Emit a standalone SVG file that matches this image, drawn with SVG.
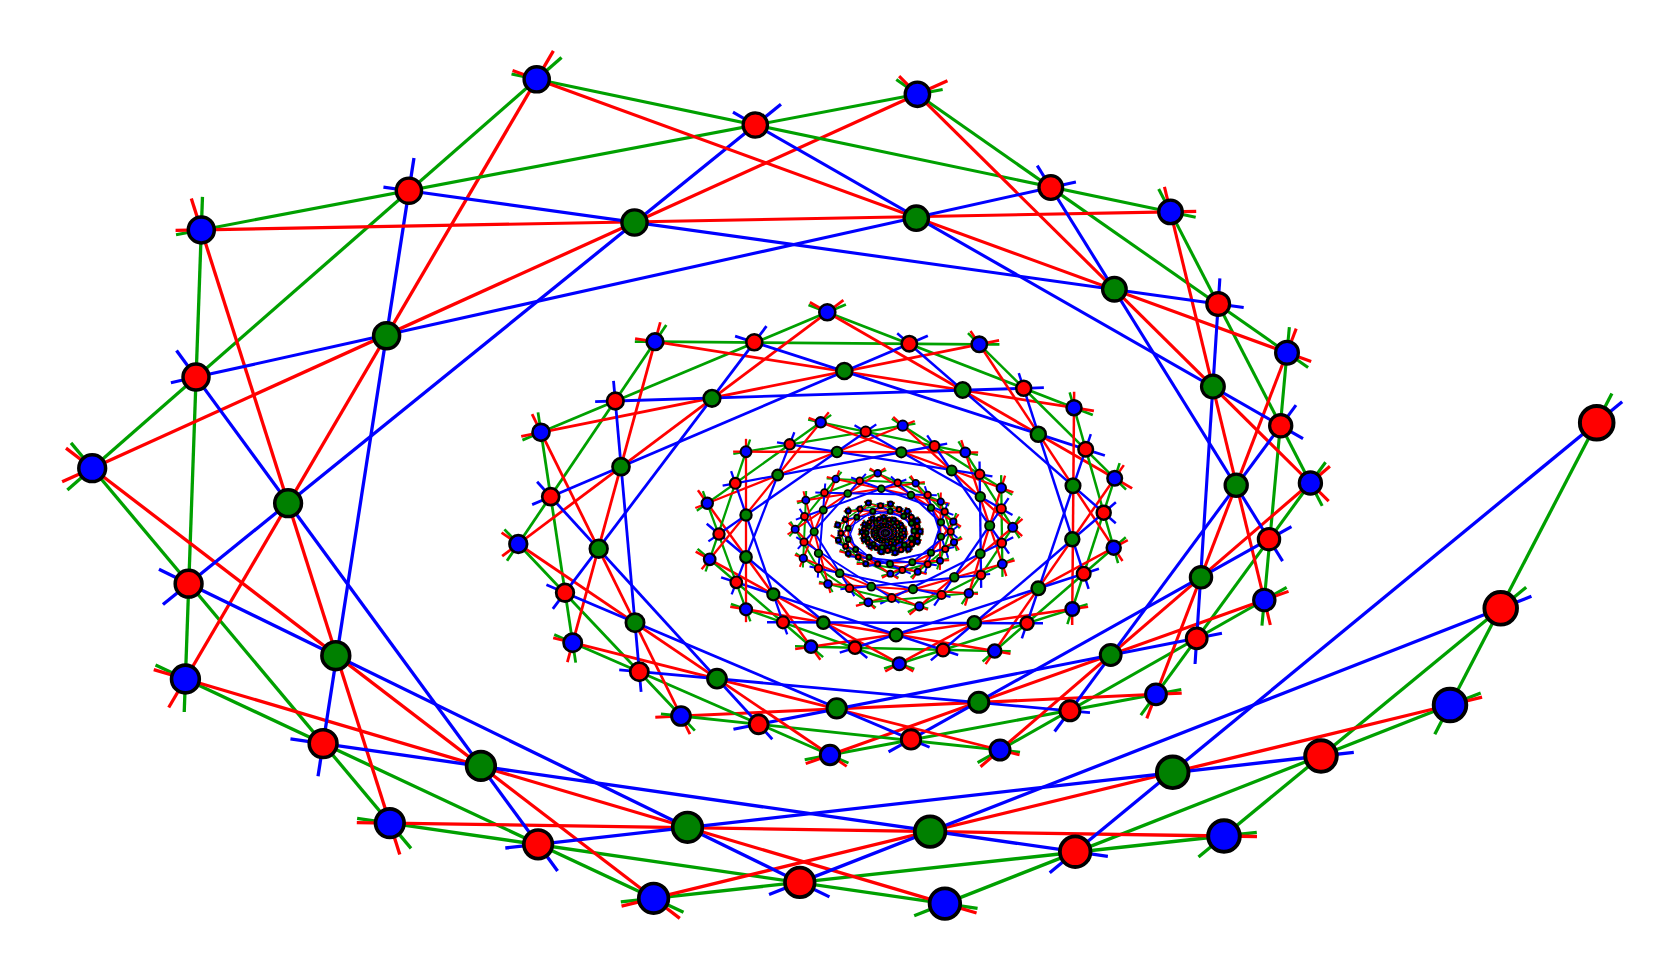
<svg xmlns="http://www.w3.org/2000/svg" width="1661" height="970" viewBox="0 0 1661 970">
<defs>
<style>
.lg{stroke:#00a000}.lr{stroke:#f00}.lb{stroke:#00f}
.A{stroke-width:3.3}.B{stroke-width:3.1}.C{stroke-width:2.8}.D{stroke-width:2.5}.E{stroke-width:2.3}.F{stroke-width:2}
.lg.A{marker-start:url(#gA);marker-end:url(#gA)}.lr.A{marker-start:url(#rA);marker-end:url(#rA)}.lb.A{marker-start:url(#bA);marker-end:url(#bA)}
.lg.B{marker-start:url(#gB);marker-end:url(#gB)}.lr.B{marker-start:url(#rB);marker-end:url(#rB)}.lb.B{marker-start:url(#bB);marker-end:url(#bB)}
.lg.C{marker-start:url(#gC);marker-end:url(#gC)}.lr.C{marker-start:url(#rC);marker-end:url(#rC)}.lb.C{marker-start:url(#bC);marker-end:url(#bC)}
.lg.D{marker-start:url(#gD);marker-end:url(#gD)}.lr.D{marker-start:url(#rD);marker-end:url(#rD)}.lb.D{marker-start:url(#bD);marker-end:url(#bD)}
.lg.E{marker-start:url(#gE);marker-end:url(#gE)}.lr.E{marker-start:url(#rE);marker-end:url(#rE)}.lb.E{marker-start:url(#bE);marker-end:url(#bE)}
.lg.F{marker-start:url(#gF);marker-end:url(#gF)}.lr.F{marker-start:url(#rF);marker-end:url(#rF)}.lb.F{marker-start:url(#bF);marker-end:url(#bF)}
#nodes circle{stroke:#000}.r{fill:#f00}.g{fill:#008000}.b{fill:#00f}
</style>
<marker id="gA" markerUnits="strokeWidth" orient="auto-start-reverse" overflow="visible"><path d="M0 0H10" stroke="#00a000"/></marker>
<marker id="rA" markerUnits="strokeWidth" orient="auto-start-reverse" overflow="visible"><path d="M0 0H10" stroke="#f00"/></marker>
<marker id="bA" markerUnits="strokeWidth" orient="auto-start-reverse" overflow="visible"><path d="M0 0H10" stroke="#00f"/></marker>
<marker id="gB" markerUnits="strokeWidth" orient="auto-start-reverse" overflow="visible"><path d="M0 0H8.3" stroke="#00a000"/></marker>
<marker id="rB" markerUnits="strokeWidth" orient="auto-start-reverse" overflow="visible"><path d="M0 0H8.3" stroke="#f00"/></marker>
<marker id="bB" markerUnits="strokeWidth" orient="auto-start-reverse" overflow="visible"><path d="M0 0H8.3" stroke="#00f"/></marker>
<marker id="gC" markerUnits="strokeWidth" orient="auto-start-reverse" overflow="visible"><path d="M0 0H7.2" stroke="#00a000"/></marker>
<marker id="rC" markerUnits="strokeWidth" orient="auto-start-reverse" overflow="visible"><path d="M0 0H7.2" stroke="#f00"/></marker>
<marker id="bC" markerUnits="strokeWidth" orient="auto-start-reverse" overflow="visible"><path d="M0 0H7.2" stroke="#00f"/></marker>
<marker id="gD" markerUnits="strokeWidth" orient="auto-start-reverse" overflow="visible"><path d="M0 0H6.4" stroke="#00a000"/></marker>
<marker id="rD" markerUnits="strokeWidth" orient="auto-start-reverse" overflow="visible"><path d="M0 0H6.4" stroke="#f00"/></marker>
<marker id="bD" markerUnits="strokeWidth" orient="auto-start-reverse" overflow="visible"><path d="M0 0H6.4" stroke="#00f"/></marker>
<marker id="gE" markerUnits="strokeWidth" orient="auto-start-reverse" overflow="visible"><path d="M0 0H5.6" stroke="#00a000"/></marker>
<marker id="rE" markerUnits="strokeWidth" orient="auto-start-reverse" overflow="visible"><path d="M0 0H5.6" stroke="#f00"/></marker>
<marker id="bE" markerUnits="strokeWidth" orient="auto-start-reverse" overflow="visible"><path d="M0 0H5.6" stroke="#00f"/></marker>
<marker id="gF" markerUnits="strokeWidth" orient="auto-start-reverse" overflow="visible"><path d="M0 0H4.6" stroke="#00a000"/></marker>
<marker id="rF" markerUnits="strokeWidth" orient="auto-start-reverse" overflow="visible"><path d="M0 0H4.6" stroke="#f00"/></marker>
<marker id="bF" markerUnits="strokeWidth" orient="auto-start-reverse" overflow="visible"><path d="M0 0H4.6" stroke="#00f"/></marker>
<marker id="gX" markerUnits="strokeWidth" orient="auto-start-reverse" overflow="visible"><path d="M0 0H3" stroke="#00a000"/></marker>
<marker id="rX" markerUnits="strokeWidth" orient="auto-start-reverse" overflow="visible"><path d="M0 0H3" stroke="#f00"/></marker>
<marker id="bX" markerUnits="strokeWidth" orient="auto-start-reverse" overflow="visible"><path d="M0 0H3" stroke="#00f"/></marker>
<g id="blk">
<g fill="none">
<g stroke="#00a000" marker-start="url(#gX)" marker-end="url(#gX)">
<path d="M811 646.7L709.7 559.3"/><path d="M746 609.3L707.3 503.3"/><path d="M709.7 559.3L746 451.7"/><path d="M707.3 503.3L820.7 422.3"/><path d="M746 451.7L902.7 425.7"/><path d="M820.7 422.3L965.3 452.3"/><path d="M902.7 425.7L1001.3 488"/><path d="M965.3 452.3L1012.7 527.3"/><path d="M1001.3 488L1002.3 564"/><path d="M1012.7 527.3L968.8 593.3"/><path d="M1002.3 564L919.3 606.3"/>
<path d="M968.8 593.3L868.3 602.3"/><path d="M919.3 606.3L828 584"/><path d="M868.3 602.3L803.3 558.3"/><path d="M828 584L795.2 529.3"/><path d="M803.3 558.3L805.8 500.2"/><path d="M795.2 529.3L835.8 479"/><path d="M805.8 500.2L877.7 473.3"/><path d="M835.8 479L915.7 483.3"/><path d="M877.7 473.3L940.7 501.7"/><path d="M915.7 483.3L953.3 521.7"/><path d="M940.7 501.7L954 542.3"/><path d="M953.3 521.7L940 560.7"/><path d="M954 542.3L917.7 571.7"/><path d="M940 560.7L890.3 573.7"/><path d="M917.7 571.7L865.8 563.7"/><path d="M890.3 573.7L848.2 553.6"/>
</g>
<g stroke="#f00" marker-start="url(#rX)" marker-end="url(#rX)">
<path d="M811 646.7L707.3 503.3"/><path d="M746 609.3L746 451.7"/><path d="M709.7 559.3L820.7 422.3"/><path d="M707.3 503.3L902.7 425.7"/><path d="M746 451.7L965.3 452.3"/><path d="M820.7 422.3L1001.3 488"/><path d="M902.7 425.7L1012.7 527.3"/><path d="M965.3 452.3L1002.3 564"/><path d="M1001.3 488L968.8 593.3"/><path d="M1012.7 527.3L919.3 606.3"/><path d="M1002.3 564L868.3 602.3"/>
<path d="M968.8 593.3L828 584"/><path d="M919.3 606.3L803.3 558.3"/><path d="M868.3 602.3L795.2 529.3"/><path d="M828 584L805.8 500.2"/><path d="M803.3 558.3L835.8 479"/><path d="M795.2 529.3L877.7 473.3"/><path d="M805.8 500.2L915.7 483.3"/><path d="M835.8 479L940.7 501.7"/><path d="M877.7 473.3L953.3 521.7"/><path d="M915.7 483.3L954 542.3"/><path d="M940.7 501.7L940 560.7"/><path d="M953.3 521.7L917.7 571.7"/><path d="M954 542.3L890.3 573.7"/><path d="M940 560.7L865.8 563.7"/><path d="M917.7 571.7L848.2 553.6"/><path d="M890.3 573.7L838.4 540.1"/>
</g>
<g stroke="#00f" marker-start="url(#bX)" marker-end="url(#bX)">
<path d="M855 647.7L719 534"/><path d="M783 622.3L735.3 483.3"/><path d="M736.3 582.3L789.7 444.3"/><path d="M719 534L865.7 431.7"/><path d="M735.3 483.3L934.5 446"/><path d="M789.7 444.3L979.7 474.3"/><path d="M865.7 431.7L1001.3 508.7"/><path d="M934.5 446L1001.7 543"/><path d="M979.7 474.3L981 575"/><path d="M1001.3 508.7L941.5 595"/><path d="M1001.7 543L891.7 598"/>
<path d="M981 575L849.5 588.3"/><path d="M941.5 595L818.5 568.5"/><path d="M891.7 598L804 542"/><path d="M849.5 588.3L804.5 516.5"/><path d="M818.5 568.5L824.5 492.7"/><path d="M804 542L859.7 480.7"/><path d="M804.5 516.5L897.7 482.7"/><path d="M824.5 492.7L927.7 495"/><path d="M859.7 480.7L944.7 511.7"/><path d="M897.7 482.7L950.7 531.7"/><path d="M927.7 495L945.3 549"/><path d="M944.7 511.7L927.7 564.3"/><path d="M950.7 531.7L902.3 570"/><path d="M945.3 549L877.7 564"/><path d="M927.7 564.3L858.2 557.1"/><path d="M902.3 570L845.6 546.3"/>
</g>
</g>
<g fill="none" stroke-linecap="round">
<path stroke="#000" style="stroke-width:var(--o1)" d="M855 647.7h.01M783 622.3h.01M736.3 582.3h.01M719 534h.01M735.3 483.3h.01M789.7 444.3h.01M865.7 431.7h.01M934.5 446h.01M979.7 474.3h.01M1001.3 508.7h.01M1001.7 543h.01M981 575h.01M941.5 595h.01M891.7 598h.01M811 646.7h.01M746 609.3h.01M709.7 559.3h.01M707.3 503.3h.01M746 451.7h.01M820.7 422.3h.01M902.7 425.7h.01M965.3 452.3h.01M1001.3 488h.01M1012.7 527.3h.01M1002.3 564h.01M968.8 593.3h.01M919.3 606.3h.01M868.3 602.3h.01M823.3 622.7h.01M773.3 594.3h.01M746 557h.01M746 515h.01M777.7 475h.01M837 452h.01M901.3 452.3h.01M951.7 470.5h.01M980.3 496.7h.01M989.7 525.7h.01M980.3 553.7h.01M954.3 577.2h.01M913 589.2h.01M871.3 586.7h.01"/>
<path stroke="#f00" style="stroke-width:var(--i1)" d="M855 647.7h.01M783 622.3h.01M736.3 582.3h.01M719 534h.01M735.3 483.3h.01M789.7 444.3h.01M865.7 431.7h.01M934.5 446h.01M979.7 474.3h.01M1001.3 508.7h.01M1001.7 543h.01M981 575h.01M941.5 595h.01M891.7 598h.01"/>
<path stroke="#00f" style="stroke-width:var(--i1)" d="M811 646.7h.01M746 609.3h.01M709.7 559.3h.01M707.3 503.3h.01M746 451.7h.01M820.7 422.3h.01M902.7 425.7h.01M965.3 452.3h.01M1001.3 488h.01M1012.7 527.3h.01M1002.3 564h.01M968.8 593.3h.01M919.3 606.3h.01M868.3 602.3h.01"/>
<path stroke="#008000" style="stroke-width:var(--i1)" d="M823.3 622.7h.01M773.3 594.3h.01M746 557h.01M746 515h.01M777.7 475h.01M837 452h.01M901.3 452.3h.01M951.7 470.5h.01M980.3 496.7h.01M989.7 525.7h.01M980.3 553.7h.01M954.3 577.2h.01M913 589.2h.01M871.3 586.7h.01"/>
<path stroke="#000" style="stroke-width:var(--o2)" d="M849.5 588.3h.01M818.5 568.5h.01M804 542h.01M804.5 516.5h.01M824.5 492.7h.01M859.7 480.7h.01M897.7 482.7h.01M927.7 495h.01M944.7 511.7h.01M950.7 531.7h.01M945.3 549h.01M927.7 564.3h.01M902.3 570h.01M828 584h.01M803.3 558.3h.01M795.2 529.3h.01M805.8 500.2h.01M835.8 479h.01M877.7 473.3h.01M915.7 483.3h.01M940.7 501.7h.01M953.3 521.7h.01M954 542.3h.01M940 560.7h.01M917.7 571.7h.01M890.3 573.7h.01M839.7 573.3h.01M818.5 553.3h.01M814.2 531.7h.01M823.3 510h.01M847.7 493.5h.01M881.3 488.7h.01M911 495h.01M931 507.7h.01M941 522.3h.01M941 536.7h.01M931 552.7h.01M912.3 562.3h.01M890 564h.01"/>
<path stroke="#f00" style="stroke-width:var(--i2)" d="M849.5 588.3h.01M818.5 568.5h.01M804 542h.01M804.5 516.5h.01M824.5 492.7h.01M859.7 480.7h.01M897.7 482.7h.01M927.7 495h.01M944.7 511.7h.01M950.7 531.7h.01M945.3 549h.01M927.7 564.3h.01M902.3 570h.01"/>
<path stroke="#00f" style="stroke-width:var(--i2)" d="M828 584h.01M803.3 558.3h.01M795.2 529.3h.01M805.8 500.2h.01M835.8 479h.01M877.7 473.3h.01M915.7 483.3h.01M940.7 501.7h.01M953.3 521.7h.01M954 542.3h.01M940 560.7h.01M917.7 571.7h.01M890.3 573.7h.01"/>
<path stroke="#008000" style="stroke-width:var(--i2)" d="M839.7 573.3h.01M818.5 553.3h.01M814.2 531.7h.01M823.3 510h.01M847.7 493.5h.01M881.3 488.7h.01M911 495h.01M931 507.7h.01M941 522.3h.01M941 536.7h.01M931 552.7h.01M912.3 562.3h.01M890 564h.01"/>
</g>
</g>
</defs>
<rect width="1661" height="970" fill="#fff"/>
<g id="connectors" fill="none">
<g class="lg A"><path d="M1596.7 422.7L1450 705"/><path d="M1500.7 608.3L1224 836"/><path d="M1450 705L944.9 903.6"/><path d="M1224 836L653.6 898.3"/><path d="M944.9 903.6L389.8 823.1"/><path d="M653.6 898.3L185.4 679"/><path d="M389.8 823.1L92.2 468.2"/><path d="M185.4 679L201.3 229.9"/><path d="M92.2 468.2L536.7 79.3"/></g>
<g class="lr A"><path d="M1450 705L653.6 898.3"/><path d="M1224 836L389.8 823.1"/><path d="M944.9 903.6L185.4 679"/><path d="M653.6 898.3L92.2 468.2"/><path d="M389.8 823.1L201.3 229.9"/><path d="M185.4 679L536.7 79.3"/><path d="M92.2 468.2L917.4 94.3"/></g>
<g class="lb A"><path d="M1596.7 422.7L1075.2 851.7"/><path d="M1500.7 608.3L799.8 882.4"/><path d="M1321 756L538.1 844.3"/><path d="M1075.2 851.7L323.1 743.6"/><path d="M799.8 882.4L188.6 583.7"/><path d="M538.1 844.3L196 377.1"/><path d="M323.1 743.6L408.9 190.7"/><path d="M188.6 583.7L755.3 125"/></g>
<g class="lg B"><path d="M201.3 229.9L917.4 94.3"/><path d="M536.7 79.3L1170.5 211.9"/><path d="M917.4 94.3L1287 352.7"/><path d="M1170.5 211.9L1310.4 483"/><path d="M1287 352.7L1264.3 600"/><path d="M1310.4 483L1156 694.3"/><path d="M1264.3 600L1000 750"/><path d="M1156 694.3L830 755"/></g>
<g class="lr B"><path d="M201.3 229.9L1170.5 211.9"/><path d="M536.7 79.3L1287 352.7"/><path d="M917.4 94.3L1310.4 483"/><path d="M1170.5 211.9L1264.3 600"/><path d="M1287 352.7L1156 694.3"/><path d="M1310.4 483L1000 750"/><path d="M1264.3 600L830 755"/><path d="M1156 694.3L681 716"/></g>
<g class="lb B"><path d="M196 377.1L1050.8 187.5"/><path d="M408.9 190.7L1218.2 304"/><path d="M755.3 125L1280.7 425.8"/><path d="M1050.8 187.5L1269 539.2"/><path d="M1218.2 304L1196.7 638.3"/><path d="M1280.7 425.8L1069.9 710.8"/><path d="M1269 539.2L911 739.4"/><path d="M1196.7 638.3L758.7 724.3"/></g>
<g class="lg C"><path d="M1000 750L681 716"/><path d="M830 755L572.7 642.7"/><path d="M681 716L518.3 544"/><path d="M572.7 642.7L541 432.3"/><path d="M518.3 544L655 341.7"/><path d="M541 432.3L827.3 312.3"/><path d="M655 341.7L979.3 344.3"/><path d="M827.3 312.3L1074 407.7"/></g>
<g class="lr C"><path d="M1000 750L572.7 642.7"/><path d="M830 755L518.3 544"/><path d="M681 716L541 432.3"/><path d="M572.7 642.7L655 341.7"/><path d="M518.3 544L827.3 312.3"/><path d="M541 432.3L979.3 344.3"/><path d="M655 341.7L1074 407.7"/><path d="M827.3 312.3L1114.7 478.3"/></g>
<g class="lb C"><path d="M1069.9 710.8L639.3 671.7"/><path d="M911 739.4L565 592.7"/><path d="M758.7 724.3L550.7 496.7"/><path d="M639.3 671.7L615.3 401"/><path d="M565 592.7L754.3 342.3"/><path d="M550.7 496.7L909.3 343.7"/><path d="M615.3 401L1023.7 388.3"/><path d="M754.3 342.3L1085.7 449.3"/></g>
<g class="lg D"><path d="M979.3 344.3L1114.7 478.3"/><path d="M1074 407.7L1113.7 547.7"/><path d="M1114.7 478.3L1072.3 609"/><path d="M1113.7 547.7L994.7 651"/><path d="M1072.3 609L899.3 663.7"/><path d="M994.7 651L811 646.7"/><path d="M899.3 663.7L746 609.3"/><path d="M811 646.7L709.7 559.3"/></g>
<g class="lr D"><path d="M979.3 344.3L1113.7 547.7"/><path d="M1074 407.7L1072.3 609"/><path d="M1114.7 478.3L994.7 651"/><path d="M1113.7 547.7L899.3 663.7"/><path d="M1072.3 609L811 646.7"/><path d="M994.7 651L746 609.3"/><path d="M899.3 663.7L709.7 559.3"/><path d="M811 646.7L707.3 503.3"/></g>
<g class="lb D"><path d="M909.3 343.7L1103.7 512.7"/><path d="M1023.7 388.3L1083.7 573.7"/><path d="M1085.7 449.3L1027 623.3"/><path d="M1103.7 512.7L943 650"/><path d="M1083.7 573.7L855 647.7"/><path d="M1027 623.3L783 622.3"/><path d="M943 650L736.3 582.3"/><path d="M855 647.7L719 534"/></g>
<g class="lg E"><path d="M746 609.3L707.3 503.3"/><path d="M709.7 559.3L746 451.7"/><path d="M707.3 503.3L820.7 422.3"/><path d="M746 451.7L902.7 425.7"/><path d="M820.7 422.3L965.3 452.3"/><path d="M902.7 425.7L1001.3 488"/><path d="M965.3 452.3L1012.7 527.3"/><path d="M1001.3 488L1002.3 564"/><path d="M1012.7 527.3L968.8 593.3"/><path d="M1002.3 564L919.3 606.3"/></g>
<g class="lr E"><path d="M746 609.3L746 451.7"/><path d="M709.7 559.3L820.7 422.3"/><path d="M707.3 503.3L902.7 425.7"/><path d="M746 451.7L965.3 452.3"/><path d="M820.7 422.3L1001.3 488"/><path d="M902.7 425.7L1012.7 527.3"/><path d="M965.3 452.3L1002.3 564"/><path d="M1001.3 488L968.8 593.3"/><path d="M1012.7 527.3L919.3 606.3"/><path d="M1002.3 564L868.3 602.3"/></g>
<g class="lb E"><path d="M783 622.3L735.3 483.3"/><path d="M736.3 582.3L789.7 444.3"/><path d="M719 534L865.7 431.7"/><path d="M735.3 483.3L934.5 446"/><path d="M789.7 444.3L979.7 474.3"/><path d="M865.7 431.7L1001.3 508.7"/><path d="M934.5 446L1001.7 543"/><path d="M979.7 474.3L981 575"/><path d="M1001.3 508.7L941.5 595"/><path d="M1001.7 543L891.7 598"/></g>
<g class="lg F"><path d="M968.8 593.3L868.3 602.3"/><path d="M919.3 606.3L828 584"/><path d="M868.3 602.3L803.3 558.3"/><path d="M828 584L795.2 529.3"/><path d="M803.3 558.3L805.8 500.2"/><path d="M795.2 529.3L835.8 479"/><path d="M805.8 500.2L877.7 473.3"/><path d="M835.8 479L915.7 483.3"/><path d="M877.7 473.3L940.7 501.7"/><path d="M915.7 483.3L953.3 521.7"/><path d="M940.7 501.7L954 542.3"/><path d="M953.3 521.7L940 560.7"/><path d="M954 542.3L917.7 571.7"/><path d="M940 560.7L890.3 573.7"/><path d="M917.7 571.7L865.8 563.7"/><path d="M890.3 573.7L848.2 553.6"/></g>
<g class="lr F"><path d="M968.8 593.3L828 584"/><path d="M919.3 606.3L803.3 558.3"/><path d="M868.3 602.3L795.2 529.3"/><path d="M828 584L805.8 500.2"/><path d="M803.3 558.3L835.8 479"/><path d="M795.2 529.3L877.7 473.3"/><path d="M805.8 500.2L915.7 483.3"/><path d="M835.8 479L940.7 501.7"/><path d="M877.7 473.3L953.3 521.7"/><path d="M915.7 483.3L954 542.3"/><path d="M940.7 501.7L940 560.7"/><path d="M953.3 521.7L917.7 571.7"/><path d="M954 542.3L890.3 573.7"/><path d="M940 560.7L865.8 563.7"/><path d="M917.7 571.7L848.2 553.6"/><path d="M890.3 573.7L838.4 540.1"/></g>
<g class="lb F"><path d="M981 575L849.5 588.3"/><path d="M941.5 595L818.5 568.5"/><path d="M891.7 598L804 542"/><path d="M849.5 588.3L804.5 516.5"/><path d="M818.5 568.5L824.5 492.7"/><path d="M804 542L859.7 480.7"/><path d="M804.5 516.5L897.7 482.7"/><path d="M824.5 492.7L927.7 495"/><path d="M859.7 480.7L944.7 511.7"/><path d="M897.7 482.7L950.7 531.7"/><path d="M927.7 495L945.3 549"/><path d="M944.7 511.7L927.7 564.3"/><path d="M950.7 531.7L902.3 570"/><path d="M945.3 549L877.7 564"/><path d="M927.7 564.3L858.2 557.1"/><path d="M902.3 570L845.6 546.3"/></g>
</g>
<g id="core">
<use href="#blk" transform="matrix(0.27 0 0 0.27 646.8 389.1)" stroke-width="5.5" style="--o1:26;--i1:11;--o2:22;--i2:6.5"/>
<use href="#blk" transform="matrix(0.0729 0 0 0.0729 821.4 494.1)" stroke-width="16" style="--o1:70;--i1:16;--o2:62;--i2:11"/>
<use href="#blk" transform="matrix(0.019683 0 0 0.019683 868.56 522.51)" stroke-width="50" style="--o1:200;--i1:30;--o2:180;--i2:20"/>
</g>
<g id="nodes">
<g id="R0"><circle class="r" cx="1596.7" cy="422.7" r="16.8" stroke-width="4"/></g>
<g id="R1"><circle class="r" cx="1500.7" cy="608.3" r="16.3" stroke-width="3.9"/></g>
<g id="B1"><circle class="b" cx="1450" cy="705" r="16.3" stroke-width="3.9"/></g>
<g id="R2"><circle class="r" cx="1321" cy="756" r="15.8" stroke-width="3.9"/></g>
<g id="B2"><circle class="b" cx="1224" cy="836" r="15.8" stroke-width="3.9"/></g>
<g id="G2"><circle class="g" cx="1172.7" cy="772.3" r="15.8" stroke-width="3.9"/></g>
<g id="R3"><circle class="r" cx="1075.2" cy="851.7" r="15.3" stroke-width="3.8"/></g>
<g id="B3"><circle class="b" cx="944.9" cy="903.6" r="15.3" stroke-width="3.8"/></g>
<g id="G3"><circle class="g" cx="930.1" cy="831.6" r="15.3" stroke-width="3.8"/></g>
<g id="R4"><circle class="r" cx="799.8" cy="882.4" r="14.8" stroke-width="3.7"/></g>
<g id="B4"><circle class="b" cx="653.6" cy="898.3" r="14.8" stroke-width="3.7"/></g>
<g id="G4"><circle class="g" cx="687.5" cy="827.3" r="14.8" stroke-width="3.7"/></g>
<g id="R5"><circle class="r" cx="538.1" cy="844.3" r="14.3" stroke-width="3.7"/></g>
<g id="B5"><circle class="b" cx="389.8" cy="823.1" r="14.3" stroke-width="3.7"/></g>
<g id="G5"><circle class="g" cx="480.9" cy="765.9" r="14.3" stroke-width="3.7"/></g>
<g id="R6"><circle class="r" cx="323.1" cy="743.6" r="13.9" stroke-width="3.6"/></g>
<g id="B6"><circle class="b" cx="185.4" cy="679" r="13.9" stroke-width="3.6"/></g>
<g id="G6"><circle class="g" cx="335.8" cy="655.7" r="13.9" stroke-width="3.6"/></g>
<g id="R7"><circle class="r" cx="188.6" cy="583.7" r="13.4" stroke-width="3.5"/></g>
<g id="B7"><circle class="b" cx="92.2" cy="468.2" r="13.4" stroke-width="3.5"/></g>
<g id="G7"><circle class="g" cx="288.1" cy="503.2" r="13.4" stroke-width="3.5"/></g>
<g id="R8"><circle class="r" cx="196" cy="377.1" r="13" stroke-width="3.5"/></g>
<g id="B8"><circle class="b" cx="201.3" cy="229.9" r="13" stroke-width="3.5"/></g>
<g id="G8"><circle class="g" cx="386.6" cy="335.8" r="13" stroke-width="3.5"/></g>
<g id="R9"><circle class="r" cx="408.9" cy="190.7" r="12.6" stroke-width="3.4"/></g>
<g id="B9"><circle class="b" cx="536.7" cy="79.3" r="12.6" stroke-width="3.4"/></g>
<g id="G9"><circle class="g" cx="634.5" cy="222.5" r="12.6" stroke-width="3.4"/></g>
<g id="R10"><circle class="r" cx="755.3" cy="125" r="12.2" stroke-width="3.3"/></g>
<g id="B10"><circle class="b" cx="917.4" cy="94.3" r="12.2" stroke-width="3.3"/></g>
<g id="G10"><circle class="g" cx="916.3" cy="218.2" r="12.2" stroke-width="3.3"/></g>
<g id="R11"><circle class="r" cx="1050.8" cy="187.5" r="11.8" stroke-width="3.3"/></g>
<g id="B11"><circle class="b" cx="1170.5" cy="211.9" r="11.8" stroke-width="3.3"/></g>
<g id="G11"><circle class="g" cx="1114.4" cy="289.2" r="11.8" stroke-width="3.3"/></g>
<g id="R12"><circle class="r" cx="1218.2" cy="304" r="11.4" stroke-width="3.2"/></g>
<g id="B12"><circle class="b" cx="1287" cy="352.7" r="11.4" stroke-width="3.2"/></g>
<g id="G12"><circle class="g" cx="1212.9" cy="386.6" r="11.4" stroke-width="3.2"/></g>
<g id="R13"><circle class="r" cx="1280.7" cy="425.8" r="11.1" stroke-width="3.2"/></g>
<g id="B13"><circle class="b" cx="1310.4" cy="483" r="11.1" stroke-width="3.2"/></g>
<g id="G13"><circle class="g" cx="1236.2" cy="485.2" r="11.1" stroke-width="3.2"/></g>
<g id="R14"><circle class="r" cx="1269" cy="539.2" r="10.7" stroke-width="3.1"/></g>
<g id="B14"><circle class="b" cx="1264.3" cy="600" r="10.7" stroke-width="3.1"/></g>
<g id="G14"><circle class="g" cx="1201" cy="577.3" r="10.7" stroke-width="3.1"/></g>
<g id="R15"><circle class="r" cx="1196.7" cy="638.3" r="10.4" stroke-width="3"/></g>
<g id="B15"><circle class="b" cx="1156" cy="694.3" r="10.4" stroke-width="3"/></g>
<g id="G15"><circle class="g" cx="1110.7" cy="655" r="10.4" stroke-width="3"/></g>
<g id="R16"><circle class="r" cx="1069.9" cy="710.8" r="10" stroke-width="3"/></g>
<g id="B16"><circle class="b" cx="1000" cy="750" r="10" stroke-width="3"/></g>
<g id="G16"><circle class="g" cx="978.8" cy="702.3" r="10" stroke-width="3"/></g>
<g id="R17"><circle class="r" cx="911" cy="739.4" r="9.7" stroke-width="2.9"/></g>
<g id="B17"><circle class="b" cx="830" cy="755" r="9.7" stroke-width="2.9"/></g>
<g id="G17"><circle class="g" cx="836.7" cy="708.3" r="9.7" stroke-width="2.9"/></g>
<g id="R18"><circle class="r" cx="758.7" cy="724.3" r="9.4" stroke-width="2.9"/></g>
<g id="B18"><circle class="b" cx="681" cy="716" r="9.4" stroke-width="2.9"/></g>
<g id="G18"><circle class="g" cx="717" cy="678.7" r="9.4" stroke-width="2.9"/></g>
<g id="R19"><circle class="r" cx="639.3" cy="671.7" r="9.1" stroke-width="2.8"/></g>
<g id="B19"><circle class="b" cx="572.7" cy="642.7" r="9.1" stroke-width="2.8"/></g>
<g id="G19"><circle class="g" cx="635" cy="622.7" r="9.1" stroke-width="2.8"/></g>
<g id="R20"><circle class="r" cx="565" cy="592.7" r="8.8" stroke-width="2.8"/></g>
<g id="B20"><circle class="b" cx="518.3" cy="544" r="8.8" stroke-width="2.8"/></g>
<g id="G20"><circle class="g" cx="598.7" cy="548.7" r="8.8" stroke-width="2.8"/></g>
<g id="R21"><circle class="r" cx="550.7" cy="496.7" r="8.5" stroke-width="2.7"/></g>
<g id="B21"><circle class="b" cx="541" cy="432.3" r="8.5" stroke-width="2.7"/></g>
<g id="G21"><circle class="g" cx="621" cy="466.7" r="8.5" stroke-width="2.7"/></g>
<g id="R22"><circle class="r" cx="615.3" cy="401" r="8.3" stroke-width="2.7"/></g>
<g id="B22"><circle class="b" cx="655" cy="341.7" r="8.3" stroke-width="2.7"/></g>
<g id="G22"><circle class="g" cx="712" cy="398.3" r="8.3" stroke-width="2.7"/></g>
<g id="R23"><circle class="r" cx="754.3" cy="342.3" r="8" stroke-width="2.6"/></g>
<g id="B23"><circle class="b" cx="827.3" cy="312.3" r="8" stroke-width="2.6"/></g>
<g id="G23"><circle class="g" cx="844.3" cy="371" r="8" stroke-width="2.6"/></g>
<g id="R24"><circle class="r" cx="909.3" cy="343.7" r="7.7" stroke-width="2.6"/></g>
<g id="B24"><circle class="b" cx="979.3" cy="344.3" r="7.7" stroke-width="2.6"/></g>
<g id="G24"><circle class="g" cx="962.7" cy="390" r="7.7" stroke-width="2.6"/></g>
<g id="R25"><circle class="r" cx="1023.7" cy="388.3" r="7.5" stroke-width="2.5"/></g>
<g id="B25"><circle class="b" cx="1074" cy="407.7" r="7.5" stroke-width="2.5"/></g>
<g id="G25"><circle class="g" cx="1038.3" cy="434.3" r="7.5" stroke-width="2.5"/></g>
<g id="R26"><circle class="r" cx="1085.7" cy="449.3" r="7.3" stroke-width="2.5"/></g>
<g id="B26"><circle class="b" cx="1114.7" cy="478.3" r="7.3" stroke-width="2.5"/></g>
<g id="G26"><circle class="g" cx="1073" cy="485.7" r="7.3" stroke-width="2.5"/></g>
<g id="R27"><circle class="r" cx="1103.7" cy="512.7" r="7" stroke-width="2.5"/></g>
<g id="B27"><circle class="b" cx="1113.7" cy="547.7" r="7" stroke-width="2.5"/></g>
<g id="G27"><circle class="g" cx="1072.3" cy="539.3" r="7" stroke-width="2.5"/></g>
<g id="R28"><circle class="r" cx="1083.7" cy="573.7" r="6.8" stroke-width="2.4"/></g>
<g id="B28"><circle class="b" cx="1072.3" cy="609" r="6.8" stroke-width="2.4"/></g>
<g id="G28"><circle class="g" cx="1038.3" cy="588.3" r="6.8" stroke-width="2.4"/></g>
<g id="R29"><circle class="r" cx="1027" cy="623.3" r="6.6" stroke-width="2.4"/></g>
<g id="B29"><circle class="b" cx="994.7" cy="651" r="6.6" stroke-width="2.4"/></g>
<g id="G29"><circle class="g" cx="974.3" cy="622.7" r="6.6" stroke-width="2.4"/></g>
<g id="R30"><circle class="r" cx="943" cy="650" r="6.4" stroke-width="2.3"/></g>
<g id="B30"><circle class="b" cx="899.3" cy="663.7" r="6.4" stroke-width="2.3"/></g>
<g id="G30"><circle class="g" cx="896" cy="635" r="6.4" stroke-width="2.3"/></g>
<g id="R31"><circle class="r" cx="855" cy="647.7" r="6.2" stroke-width="2.3"/></g>
<g id="B31"><circle class="b" cx="811" cy="646.7" r="6.2" stroke-width="2.3"/></g>
<g id="G31"><circle class="g" cx="823.3" cy="622.7" r="6.2" stroke-width="2.3"/></g>
<g id="R32"><circle class="r" cx="783" cy="622.3" r="6" stroke-width="2.2"/></g>
<g id="B32"><circle class="b" cx="746" cy="609.3" r="6" stroke-width="2.2"/></g>
<g id="G32"><circle class="g" cx="773.3" cy="594.3" r="6" stroke-width="2.2"/></g>
<g id="R33"><circle class="r" cx="736.3" cy="582.3" r="5.8" stroke-width="2.2"/></g>
<g id="B33"><circle class="b" cx="709.7" cy="559.3" r="5.8" stroke-width="2.2"/></g>
<g id="G33"><circle class="g" cx="746" cy="557" r="5.8" stroke-width="2.2"/></g>
<g id="R34"><circle class="r" cx="719" cy="534" r="5.6" stroke-width="2.2"/></g>
<g id="B34"><circle class="b" cx="707.3" cy="503.3" r="5.6" stroke-width="2.2"/></g>
<g id="G34"><circle class="g" cx="746" cy="515" r="5.6" stroke-width="2.2"/></g>
<g id="R35"><circle class="r" cx="735.3" cy="483.3" r="5.4" stroke-width="2.1"/></g>
<g id="B35"><circle class="b" cx="746" cy="451.7" r="5.4" stroke-width="2.1"/></g>
<g id="G35"><circle class="g" cx="777.7" cy="475" r="5.4" stroke-width="2.1"/></g>
<g id="R36"><circle class="r" cx="789.7" cy="444.3" r="5.2" stroke-width="2.1"/></g>
<g id="B36"><circle class="b" cx="820.7" cy="422.3" r="5.2" stroke-width="2.1"/></g>
<g id="G36"><circle class="g" cx="837" cy="452" r="5.2" stroke-width="2.1"/></g>
<g id="R37"><circle class="r" cx="865.7" cy="431.7" r="5.1" stroke-width="2"/></g>
<g id="B37"><circle class="b" cx="902.7" cy="425.7" r="5.1" stroke-width="2"/></g>
<g id="G37"><circle class="g" cx="901.3" cy="452.3" r="5.1" stroke-width="2"/></g>
<g id="R38"><circle class="r" cx="934.5" cy="446" r="4.9" stroke-width="2"/></g>
<g id="B38"><circle class="b" cx="965.3" cy="452.3" r="4.9" stroke-width="2"/></g>
<g id="G38"><circle class="g" cx="951.7" cy="470.5" r="4.9" stroke-width="2"/></g>
<g id="R39"><circle class="r" cx="979.7" cy="474.3" r="4.7" stroke-width="2"/></g>
<g id="B39"><circle class="b" cx="1001.3" cy="488" r="4.7" stroke-width="2"/></g>
<g id="G39"><circle class="g" cx="980.3" cy="496.7" r="4.7" stroke-width="2"/></g>
<g id="R40"><circle class="r" cx="1001.3" cy="508.7" r="4.6" stroke-width="1.9"/></g>
<g id="B40"><circle class="b" cx="1012.7" cy="527.3" r="4.6" stroke-width="1.9"/></g>
<g id="G40"><circle class="g" cx="989.7" cy="525.7" r="4.6" stroke-width="1.9"/></g>
<g id="R41"><circle class="r" cx="1001.7" cy="543" r="4.45" stroke-width="1.9"/></g>
<g id="B41"><circle class="b" cx="1002.3" cy="564" r="4.45" stroke-width="1.9"/></g>
<g id="G41"><circle class="g" cx="980.3" cy="553.7" r="4.45" stroke-width="1.9"/></g>
<g id="R42"><circle class="r" cx="981" cy="575" r="4.3" stroke-width="1.9"/></g>
<g id="B42"><circle class="b" cx="968.8" cy="593.3" r="4.3" stroke-width="1.9"/></g>
<g id="G42"><circle class="g" cx="954.3" cy="577.2" r="4.3" stroke-width="1.9"/></g>
<g id="R43"><circle class="r" cx="941.5" cy="595" r="4.2" stroke-width="1.8"/></g>
<g id="B43"><circle class="b" cx="919.3" cy="606.3" r="4.2" stroke-width="1.8"/></g>
<g id="G43"><circle class="g" cx="913" cy="589.2" r="4.2" stroke-width="1.8"/></g>
<g id="R44"><circle class="r" cx="891.7" cy="598" r="4" stroke-width="1.8"/></g>
<g id="B44"><circle class="b" cx="868.3" cy="602.3" r="4" stroke-width="1.8"/></g>
<g id="G44"><circle class="g" cx="871.3" cy="586.7" r="4" stroke-width="1.8"/></g>
<g id="R45"><circle class="r" cx="849.5" cy="588.3" r="3.9" stroke-width="1.8"/></g>
<g id="B45"><circle class="b" cx="828" cy="584" r="3.9" stroke-width="1.8"/></g>
<g id="G45"><circle class="g" cx="839.7" cy="573.3" r="3.9" stroke-width="1.8"/></g>
<g id="R46"><circle class="r" cx="818.5" cy="568.5" r="3.8" stroke-width="1.7"/></g>
<g id="B46"><circle class="b" cx="803.3" cy="558.3" r="3.8" stroke-width="1.7"/></g>
<g id="G46"><circle class="g" cx="818.5" cy="553.3" r="3.8" stroke-width="1.7"/></g>
<g id="R47"><circle class="r" cx="804" cy="542" r="3.7" stroke-width="1.7"/></g>
<g id="B47"><circle class="b" cx="795.2" cy="529.3" r="3.7" stroke-width="1.7"/></g>
<g id="G47"><circle class="g" cx="814.2" cy="531.7" r="3.7" stroke-width="1.7"/></g>
<g id="R48"><circle class="r" cx="804.5" cy="516.5" r="3.6" stroke-width="1.7"/></g>
<g id="B48"><circle class="b" cx="805.8" cy="500.2" r="3.6" stroke-width="1.7"/></g>
<g id="G48"><circle class="g" cx="823.3" cy="510" r="3.6" stroke-width="1.7"/></g>
<g id="R49"><circle class="r" cx="824.5" cy="492.7" r="3.5" stroke-width="1.7"/></g>
<g id="B49"><circle class="b" cx="835.8" cy="479" r="3.5" stroke-width="1.7"/></g>
<g id="G49"><circle class="g" cx="847.7" cy="493.5" r="3.5" stroke-width="1.7"/></g>
<g id="R50"><circle class="r" cx="859.7" cy="480.7" r="3.4" stroke-width="1.7"/></g>
<g id="B50"><circle class="b" cx="877.7" cy="473.3" r="3.4" stroke-width="1.7"/></g>
<g id="G50"><circle class="g" cx="881.3" cy="488.7" r="3.4" stroke-width="1.7"/></g>
<g id="R51"><circle class="r" cx="897.7" cy="482.7" r="3.35" stroke-width="1.7"/></g>
<g id="B51"><circle class="b" cx="915.7" cy="483.3" r="3.35" stroke-width="1.7"/></g>
<g id="G51"><circle class="g" cx="911" cy="495" r="3.35" stroke-width="1.7"/></g>
<g id="R52"><circle class="r" cx="927.7" cy="495" r="3.3" stroke-width="1.7"/></g>
<g id="B52"><circle class="b" cx="940.7" cy="501.7" r="3.3" stroke-width="1.7"/></g>
<g id="G52"><circle class="g" cx="931" cy="507.7" r="3.3" stroke-width="1.7"/></g>
<g id="R53"><circle class="r" cx="944.7" cy="511.7" r="3.25" stroke-width="1.7"/></g>
<g id="B53"><circle class="b" cx="953.3" cy="521.7" r="3.25" stroke-width="1.7"/></g>
<g id="G53"><circle class="g" cx="941" cy="522.3" r="3.25" stroke-width="1.7"/></g>
<g id="R54"><circle class="r" cx="950.7" cy="531.7" r="3.2" stroke-width="1.7"/></g>
<g id="B54"><circle class="b" cx="954" cy="542.3" r="3.2" stroke-width="1.7"/></g>
<g id="G54"><circle class="g" cx="941" cy="536.7" r="3.2" stroke-width="1.7"/></g>
<g id="R55"><circle class="r" cx="945.3" cy="549" r="3.15" stroke-width="1.7"/></g>
<g id="B55"><circle class="b" cx="940" cy="560.7" r="3.15" stroke-width="1.7"/></g>
<g id="G55"><circle class="g" cx="931" cy="552.7" r="3.15" stroke-width="1.7"/></g>
<g id="R56"><circle class="r" cx="927.7" cy="564.3" r="3.1" stroke-width="1.7"/></g>
<g id="B56"><circle class="b" cx="917.7" cy="571.7" r="3.1" stroke-width="1.7"/></g>
<g id="G56"><circle class="g" cx="912.3" cy="562.3" r="3.1" stroke-width="1.7"/></g>
<g id="R57"><circle class="r" cx="902.3" cy="570" r="3.05" stroke-width="1.7"/></g>
<g id="B57"><circle class="b" cx="890.3" cy="573.7" r="3.05" stroke-width="1.7"/></g>
<g id="G57"><circle class="g" cx="890" cy="564" r="3.05" stroke-width="1.7"/></g>
</g>
</svg>
